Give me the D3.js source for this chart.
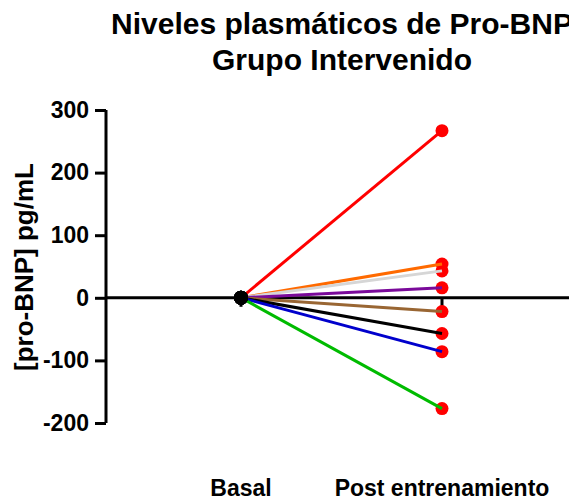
<!DOCTYPE html>
<html>
<head>
<meta charset="utf-8">
<script src="https://cdn.jsdelivr.net/npm/d3@7"></script>
<style>
  html, body { margin: 0; padding: 0; background: #fff; overflow: hidden; }
  svg { display: block; font-family: "Liberation Sans", Arial, Helvetica, sans-serif; }
</style>
</head>
<body>
<svg id="chart" width="569" height="501"></svg>
<script>
// Paired measurements: change in pro-BNP from baseline, one line per subject
const categories = ["Basal", "Post entrenamiento"];
const basalValues = [0, 0, 0, 0, 0, 0, 0, 0];
const postValues = [267, 54, 43, 16, -22, -57, -86, -177];
const subjectColors = ["#ff0000", "#ff6a00", "#d6d6d6", "#7a0a9a", "#996633", "#000000", "#0000cc", "#00bb00"];
const yTicks = [300, 200, 100, 0, -100, -200];
const titleLines = ["Niveles plasmáticos de Pro-BNP", "Grupo Intervenido"];
const yLabel = "[pro-BNP] pg/mL";

const svg = d3.select("#chart");

const x = d3.scalePoint().domain(categories).range([241, 442]);
const y = d3.scaleLinear().domain([-200, 300]).range([423, 110]);
const axisX = 106;

// Title
svg.append("text")
  .attr("x", 342).attr("y", 34)
  .attr("text-anchor", "middle")
  .attr("font-size", 30).attr("font-weight", "bold")
  .text(titleLines[0]);
svg.append("text")
  .attr("x", 342).attr("y", 70)
  .attr("text-anchor", "middle")
  .attr("font-size", 30).attr("font-weight", "bold")
  .text(titleLines[1]);

// Y axis
const yAxis = d3.axisLeft(y).tickValues(yTicks).tickSize(11).tickPadding(6).tickFormat(d => String(d));
const gy = svg.append("g").attr("transform", `translate(${axisX},0)`).call(yAxis);
gy.select(".domain").attr("stroke", "#000").attr("stroke-width", 3)
  .attr("d", `M0,${y(300)}V${y(-200)}`);
gy.selectAll(".tick line").attr("stroke", "#000").attr("stroke-width", 3);
gy.selectAll(".tick text")
  .attr("font-size", 23).attr("font-weight", "bold")
  .attr("font-family", "Liberation Sans, Arial, sans-serif")
  .attr("fill", "#000");

// Y axis title
svg.append("text")
  .attr("transform", `translate(33,267) rotate(-90)`)
  .attr("text-anchor", "middle")
  .attr("font-size", 26).attr("font-weight", "bold")
  .text(yLabel);

// Zero baseline running across the plot
svg.append("line")
  .attr("x1", axisX).attr("x2", 569)
  .attr("y1", y(0)).attr("y2", y(0))
  .attr("stroke", "#000").attr("stroke-width", 3);

// Category ticks hanging below the zero line
svg.append("g").selectAll("line").data(categories).join("line")
  .attr("x1", d => x(d)).attr("x2", d => x(d))
  .attr("y1", y(0)).attr("y2", y(0) + 9)
  .attr("stroke", "#000").attr("stroke-width", 3);

// Category labels
svg.append("g").selectAll("text").data(categories).join("text")
  .attr("x", d => x(d)).attr("y", 496)
  .attr("text-anchor", "middle")
  .attr("font-size", 23).attr("font-weight", "bold")
  .text(d => d);

// Post points
svg.append("g").selectAll("circle").data(postValues).join("circle")
  .attr("cx", x(categories[1])).attr("cy", d => y(d))
  .attr("r", 6.5).attr("fill", "#ff0000");

// Subject lines
svg.append("g").selectAll("line").data(postValues).join("line")
  .attr("x1", x(categories[0])).attr("y1", (d, i) => y(basalValues[i]))
  .attr("x2", x(categories[1])).attr("y2", d => y(d))
  .attr("stroke", (d, i) => subjectColors[i]).attr("stroke-width", 3);

// Basal points
svg.append("g").selectAll("circle").data(basalValues).join("circle")
  .attr("cx", x(categories[0])).attr("cy", d => y(d))
  .attr("r", 7).attr("fill", "#000");
</script>
</body>
</html>
